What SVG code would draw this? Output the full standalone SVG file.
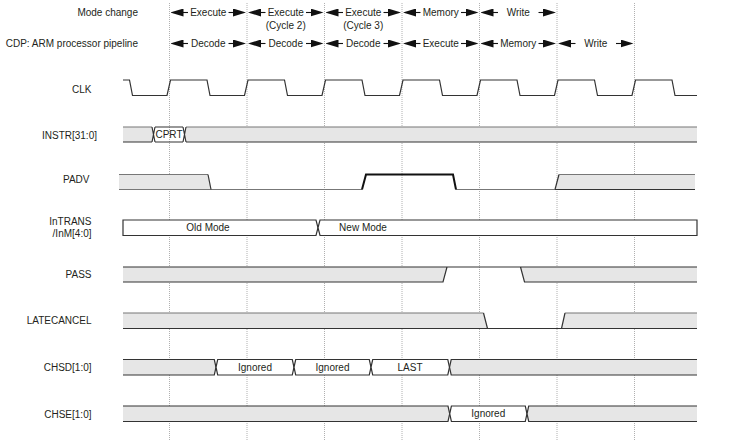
<svg xmlns="http://www.w3.org/2000/svg" width="736" height="441" viewBox="0 0 736 441">
<style>
text{font-family:"Liberation Sans",Arial,sans-serif;font-size:10px;fill:#231f20}
.lbl{text-anchor:end}
.c{text-anchor:middle}
.grid{stroke:#b0b0b0;stroke-width:1;stroke-dasharray:1 1;fill:none}
.gf{fill:#e6e6e6;stroke:none}
.top{stroke:#777;stroke-width:1.2;fill:none}
.bot{stroke:#333;stroke-width:1.2;fill:none}
.edge{stroke:#333;stroke-width:1.2;fill:none}
.bus{fill:#fff;stroke:#333;stroke-width:1.2}
.arr{stroke:#111;stroke-width:1.1;fill:none;marker-end:url(#ah)}
</style>
<defs>
<marker id="ah" markerWidth="13" markerHeight="8" refX="11" refY="4" orient="auto" markerUnits="userSpaceOnUse">
<path d="M0,0 L13,4 L0,8 Z" fill="#111"/>
</marker>
</defs>
<rect width="736" height="441" fill="#fff"/>

<g id="grid">
<line class="grid" x1="169.5" y1="3" x2="169.5" y2="441"/>
<line class="grid" x1="247" y1="3" x2="247" y2="441"/>
<line class="grid" x1="324.5" y1="3" x2="324.5" y2="441"/>
<line class="grid" x1="402" y1="3" x2="402" y2="441"/>
<line class="grid" x1="479.5" y1="3" x2="479.5" y2="441"/>
<line class="grid" x1="557" y1="3" x2="557" y2="441"/>
<line class="grid" x1="634.5" y1="3" x2="634.5" y2="441"/>
</g>

<g id="header-labels">
<text class="lbl" x="138" y="16">Mode change</text>
<text class="lbl" x="138" y="47">CDP: ARM processor pipeline</text>
</g>

<g id="connectors">
<!-- row 1 -->
<line class="arr" x1="188" y1="12.5" x2="172.5" y2="12.5"/>
<line class="arr" x1="228.5" y1="12.5" x2="244" y2="12.5"/>
<line class="arr" x1="265.5" y1="12.5" x2="250" y2="12.5"/>
<line class="arr" x1="306" y1="12.5" x2="321.5" y2="12.5"/>
<line class="arr" x1="343" y1="12.5" x2="327.5" y2="12.5"/>
<line class="arr" x1="383.5" y1="12.5" x2="399" y2="12.5"/>
<line class="arr" x1="420.5" y1="12.5" x2="405" y2="12.5"/>
<line class="arr" x1="461" y1="12.5" x2="476.5" y2="12.5"/>
<line class="arr" x1="498" y1="12.5" x2="482.5" y2="12.5"/>
<line class="arr" x1="538.5" y1="12.5" x2="554" y2="12.5"/>
<!-- row 2 -->
<line class="arr" x1="188" y1="43.5" x2="172.5" y2="43.5"/>
<line class="arr" x1="228.5" y1="43.5" x2="244" y2="43.5"/>
<line class="arr" x1="265.5" y1="43.5" x2="250" y2="43.5"/>
<line class="arr" x1="306" y1="43.5" x2="321.5" y2="43.5"/>
<line class="arr" x1="343" y1="43.5" x2="327.5" y2="43.5"/>
<line class="arr" x1="383.5" y1="43.5" x2="399" y2="43.5"/>
<line class="arr" x1="420.5" y1="43.5" x2="405" y2="43.5"/>
<line class="arr" x1="461" y1="43.5" x2="476.5" y2="43.5"/>
<line class="arr" x1="498" y1="43.5" x2="482.5" y2="43.5"/>
<line class="arr" x1="538.5" y1="43.5" x2="554" y2="43.5"/>
<line class="arr" x1="575.5" y1="43.5" x2="560" y2="43.5"/>
<line class="arr" x1="616" y1="43.5" x2="631.5" y2="43.5"/>
</g>

<g id="phase-labels">
<text class="c" x="208.25" y="16">Execute</text>
<text class="c" x="285.75" y="16">Execute</text>
<text class="c" x="285.75" y="28.5">(Cycle 2)</text>
<text class="c" x="363.25" y="16">Execute</text>
<text class="c" x="363.25" y="28.5">(Cycle 3)</text>
<text class="c" x="440.75" y="16">Memory</text>
<text class="c" x="518.25" y="16">Write</text>
<text class="c" x="208.25" y="47">Decode</text>
<text class="c" x="285.75" y="47">Decode</text>
<text class="c" x="363.25" y="47">Decode</text>
<text class="c" x="440.75" y="47">Execute</text>
<text class="c" x="518.25" y="47">Memory</text>
<text class="c" x="595.75" y="47">Write</text>
</g>

<g id="CLK">
<text class="lbl" x="91.5" y="92.5">CLK</text>
<path class="edge" stroke-width="1.3" d="M123,80 L129.5,80 L132.5,95.5 L167,95.5 L170.5,80 L207,80 L210,95.5 L244.5,95.5 L248,80 L284.5,80 L287.5,95.5 L322,95.5 L325.5,80 L362,80 L365,95.5 L399.5,95.5 L403,80 L439.5,80 L442.5,95.5 L477,95.5 L480.5,80 L517,80 L520,95.5 L554.5,95.5 L558,80 L594.5,80 L597.5,95.5 L632,95.5 L635.5,80 L672,80 L675,95.5 L697,95.5"/>
</g>

<g id="INSTR">
<text class="lbl" x="97" y="138.5">INSTR[31:0]</text>
<polygon class="gf" points="123,127 152,127 153.5,134.5 152,142 123,142"/>
<polygon class="gf" points="184.5,134.5 186,127 697,127 697,142 186,142"/>
<path class="top" d="M123,127 H152 M186,127 H697"/>
<path class="bot" d="M123,142 H152 M186,142 H697"/>
<path class="edge" d="M152,127 L155,142 M152,142 L155,127 M183,127 L186,142 M183,142 L186,127 M155,127 H183 M155,142 H183"/>
<text class="c" x="169" y="138">CPRT</text>
</g>

<g id="PADV">
<text class="lbl" x="89.5" y="183">PADV</text>
<polygon class="gf" points="119,174.5 208,174.5 211,189.5 119,189.5"/>
<polygon class="gf" points="555,189.5 559,174.5 695,174.5 695,189.5"/>
<path class="top" d="M119,174.5 H208"/>
<path class="top" d="M119,189.5 H362 M456,189.5 H555"/>
<path class="edge" d="M208,174.5 L211,189.5"/>
<path d="M362,189.5 L366,174.5 H453 L456,189.5" fill="none" stroke="#111" stroke-width="2"/>
<path class="edge" d="M555,189.5 L559,174.5"/>
<path class="top" d="M559,174.5 H695"/>
<path class="bot" d="M555,189.5 H695"/>
</g>

<g id="InTRANS">
<text class="lbl" x="91.5" y="225">InTRANS</text>
<text class="lbl" x="91.5" y="237">/InM[4:0]</text>
<polygon class="bus" points="123,220 316,220 318,227.75 316,235.5 123,235.5"/>
<polygon class="bus" points="318,227.75 320,220 697,220 697,235.5 320,235.5"/>
<text class="c" x="208" y="231">Old Mode</text>
<text class="c" x="363" y="231">New Mode</text>
</g>

<g id="PASS">
<text class="lbl" x="91.5" y="278">PASS</text>
<polygon class="gf" points="123,267 447,267 443,282 123,282"/>
<polygon class="gf" points="520.5,267 697,267 697,282 524.5,282"/>
<path class="edge" d="M123,267 H697 M123,282 H443 L447,267 M520.5,267 L524.5,282 H697"/>
</g>

<g id="LATECANCEL">
<text class="lbl" x="91.5" y="323.5">LATECANCEL</text>
<polygon class="gf" points="123,313 483.5,313 487.5,328.5 123,328.5"/>
<polygon class="gf" points="561.5,328.5 565,313 697,313 697,328.5"/>
<path class="top" d="M123,313 H483.5 M565,313 H697"/>
<path class="edge" d="M483.5,313 L487.5,328.5 M123,328.5 H697 M561.5,328.5 L565,313"/>
</g>

<g id="CHSD">
<text class="lbl" x="91.5" y="371">CHSD[1:0]</text>
<polygon class="gf" points="123,359.5 214.3,359.5 216,367.25 214.3,375 123,375"/>
<path class="edge" d="M123,359.5 H214.3 L216,367.25 L214.3,375 H123"/>
<polygon class="bus" points="216,367.25 217.7,359.5 292.3,359.5 294,367.25 292.3,375 217.7,375"/>
<polygon class="bus" points="294,367.25 295.7,359.5 369.3,359.5 371,367.25 369.3,375 295.7,375"/>
<polygon class="bus" points="371,367.25 372.7,359.5 447.8,359.5 449.5,367.25 447.8,375 372.7,375"/>
<polygon class="gf" points="449.5,367.25 451.2,359.5 697,359.5 697,375 451.2,375"/>
<path class="edge" d="M697,359.5 H451.2 L449.5,367.25 L451.2,375 H697"/>
<text class="c" x="255" y="370.75">Ignored</text>
<text class="c" x="332.5" y="370.75">Ignored</text>
<text class="c" x="410" y="370.75">LAST</text>
</g>

<g id="CHSE">
<text class="lbl" x="91.5" y="417.5">CHSE[1:0]</text>
<polygon class="gf" points="123,406 448,406 449.7,413.75 448,421.5 123,421.5"/>
<path class="edge" d="M123,406 H448 L449.7,413.75 L448,421.5 H123"/>
<polygon class="bus" points="449.7,413.75 451.4,406 525.3,406 527,413.75 525.3,421.5 451.4,421.5"/>
<polygon class="gf" points="527,413.75 528.7,406 697,406 697,421.5 528.7,421.5"/>
<path class="edge" d="M697,406 H528.7 L527,413.75 L528.7,421.5 H697"/>
<text class="c" x="488.3" y="417.25">Ignored</text>
</g>
</svg>
